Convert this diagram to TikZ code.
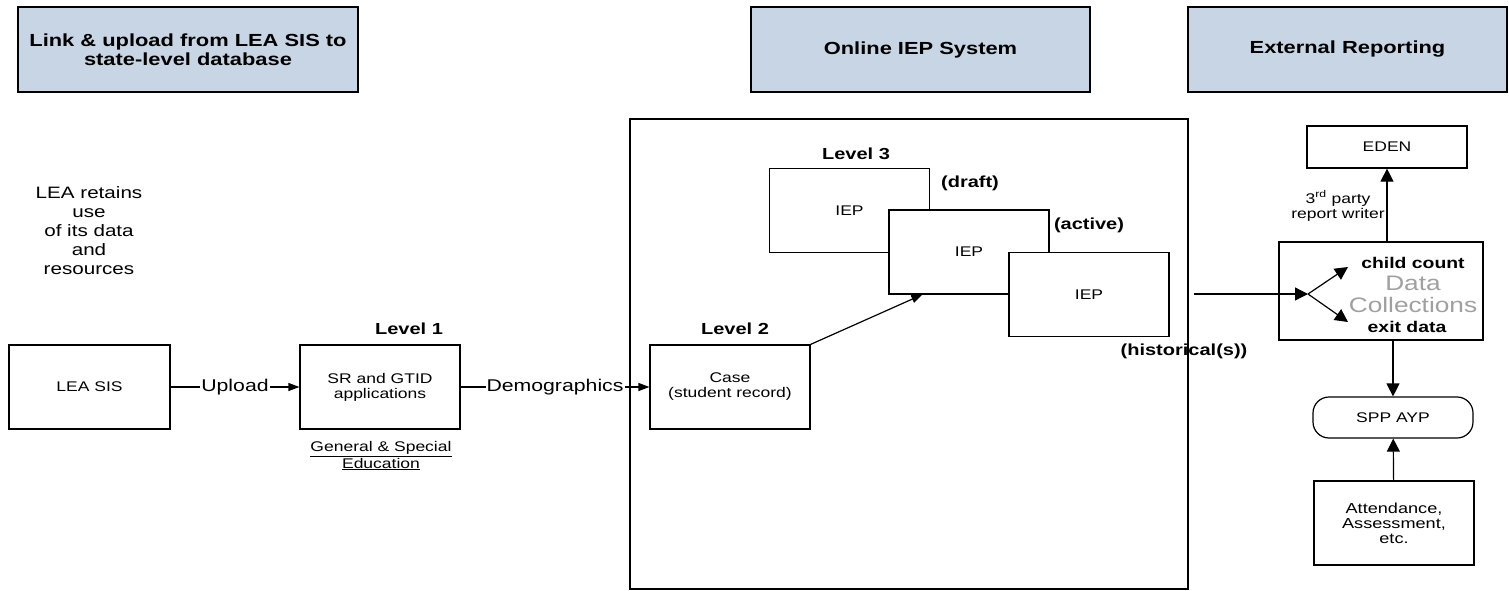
\documentclass[tikz,border=0pt]{standalone}
\usepackage{fontspec}
\setmainfont{Liberation Sans}[FakeStretch=1.25]
\usepackage{xcolor}
\usetikzlibrary{arrows.meta}
\definecolor{headblue}{RGB}{200,213,228}
\definecolor{dcgray}{RGB}{160,160,160}

\begin{document}
\begin{tikzpicture}[x=1pt, y=-1pt,
    header/.style={rectangle, draw, line width=1.2pt, fill=headblue, minimum height=85pt, align=center, font=\fontsize{17.5}{19}\selectfont\bfseries},
    box/.style={rectangle, draw, line width=1.2pt, fill=white, minimum width=160pt, minimum height=84pt, align=center, font=\fontsize{14}{15}\selectfont},
    lvl/.style={font=\fontsize{16}{18}\selectfont\bfseries},
    note/.style={align=center, font=\fontsize{14}{15}\selectfont},
    arr/.style={-{Triangle[length=13pt,width=13pt]}, line width=1.2pt},
    flow/.style={-{Triangle[length=11pt,width=8pt]}, line width=1.2pt}]

    \useasboundingbox (0,0) rectangle (1509,591);

    % headers
    \node[header, minimum width=340pt] (linkhead) at (188,49.5) {Link \& upload from LEA SIS to\\state-level database};
    \node[header, minimum width=339pt] (iephead) at (920.5,49.5) {Online IEP System};
    \node[header, minimum width=319pt] (exthead) at (1347.5,49.5) {External Reporting};

    % LEA side
    \node[align=center, font=\fontsize{16.5}{19}\selectfont] (retain) at (89,231) {LEA retains\\use\\of its data\\and\\resources};
    \node[box, minimum width=161pt] (leasis) at (89.5,387) {LEA SIS};
    \node[box] (srgtid) at (380,387) {SR and GTID\\applications};
    \node[lvl] (lvlone) at (409,329) {Level 1};
    \node[note] (gense) at (381,456) {\underline{General \& Special}\\\underline{Education}};

    % online IEP system
    \node[rectangle, draw, line width=1.2pt, minimum width=558pt, minimum height=470pt] (iepsys) at (909,354) {};
    \node[box] (case) at (730,387) {Case\\(student record)};
    \node[lvl] (lvltwo) at (735,329) {Level 2};
    \node[box] (iepa) at (849.5,210.5) {IEP};
    \node[box] (iepb) at (969,252) {IEP};
    \node[box] (iepc) at (1089,294.5) {IEP};
    \node[lvl] (lvlthree) at (856,154) {Level 3};
    \node[lvl] (draft) at (970,183) {(draft)};
    \node[lvl] (active) at (1089,225) {(active)};
    \node[lvl] (hist) at (1184,351) {(historical(s))};

    \draw[flow] (leasis) -- node[fill=white, inner sep=1pt, font=\fontsize{17}{19}\selectfont] {Upload} (srgtid);
    \draw[flow] (srgtid) -- node[fill=white, inner sep=1pt, font=\fontsize{17}{19}\selectfont] {Demographics} (case);
    \draw[flow] (case.north east) -- ([xshift=34pt]iepb.south west);

    % external reporting
    \node[box, minimum width=204pt, minimum height=98pt] (datacol) at (1381,291) {};
    \node[font=\fontsize{21}{22}\selectfont, text=dcgray, align=center] (dctext) at (1413,294) {Data\\Collections};
    \node[lvl, font=\fontsize{15.5}{17}\selectfont\bfseries] (child) at (1413,263) {child count};
    \node[lvl, font=\fontsize{15.5}{17}\selectfont\bfseries] (exitd) at (1407,327) {exit data};
    \coordinate (histout) at (1194,294);
    \coordinate (fan) at (1308,294);
    \coordinate (tochild) at (1348,267);
    \coordinate (toexit) at (1348,322);
    \draw[arr] (histout) -- (fan);
    \draw[arr] (fan) -- (tochild);
    \draw[arr] (fan) -- (toexit);

    \node[box, minimum height=42pt] (eden) at (1387,147) {EDEN};
    \node[note] (writer) at (1338,206) {3\textsuperscript{rd} party\\report writer};
    \draw[arr] (eden.south |- datacol.north) -- (eden.south);

    \node[box, minimum height=41pt, rounded corners=16pt] (sppayp) at (1393,417.5) {SPP AYP};
    \node[box, font=\fontsize{14.5}{15}\selectfont] (attend) at (1394,523) {Attendance,\\Assessment,\\etc.};
    \draw[arr] (sppayp.north |- datacol.south) -- (sppayp.north);
    \draw[arr] (attend) -- (sppayp);

\end{tikzpicture}
\end{document}
